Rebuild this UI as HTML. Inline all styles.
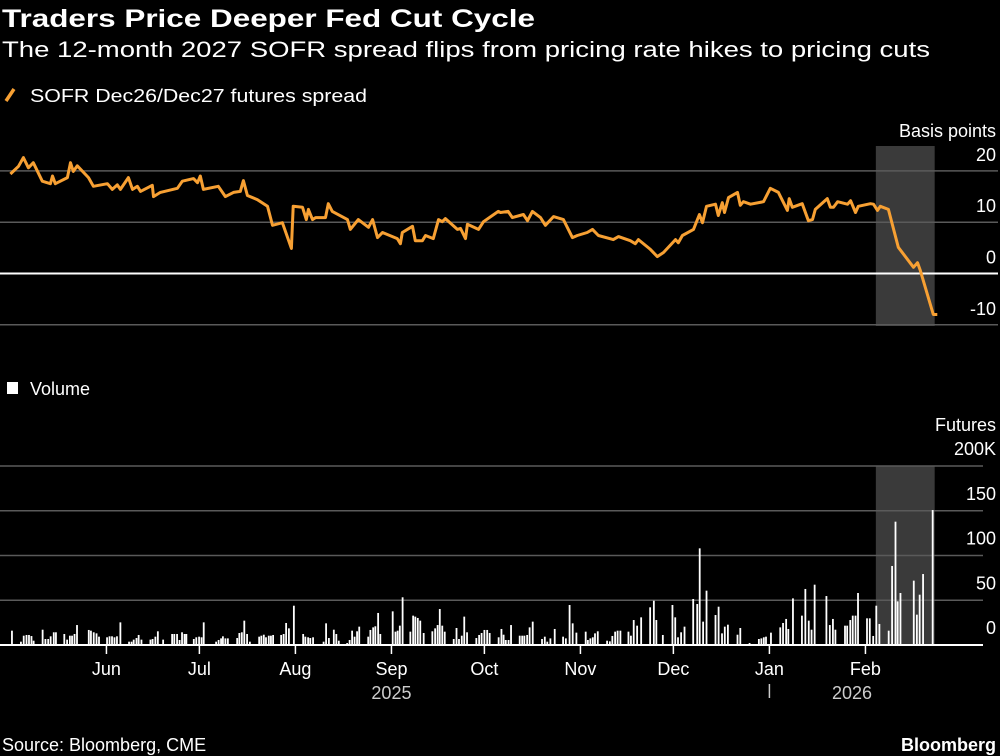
<!DOCTYPE html>
<html><head><meta charset="utf-8"><style>
html,body{margin:0;padding:0;background:#000;}
svg{display:block;font-family:"Liberation Sans",sans-serif;}
</style></head><body>
<svg id="chart" width="1000" height="756" viewBox="0 0 1000 756" xmlns="http://www.w3.org/2000/svg">
<rect x="0" y="0" width="1000" height="756" fill="#000"/>
<text x="2" y="27" font-size="25" font-weight="bold" fill="#fff" textLength="533" lengthAdjust="spacingAndGlyphs">Traders Price Deeper Fed Cut Cycle</text>
<text x="2" y="57" font-size="22" fill="#fff" textLength="928" lengthAdjust="spacingAndGlyphs">The 12-month 2027 SOFR spread flips from pricing rate hikes to pricing cuts</text>
<line x1="6" y1="101" x2="14" y2="89" stroke="#f7a033" stroke-width="3.5"/>
<text x="30" y="102" font-size="18" fill="#fff" textLength="337" lengthAdjust="spacingAndGlyphs">SOFR Dec26/Dec27 futures spread</text>
<rect x="7" y="382" width="11" height="12" fill="#fff"/>
<text x="30" y="395" font-size="18" fill="#fff">Volume</text>
<g id="topPanel"></g>
<g id="botPanel"></g>
<g id="xax"></g>
<text x="2" y="751" font-size="18" fill="#fff">Source: Bloomberg, CME</text>
<text x="996" y="751" font-size="18" font-weight="bold" fill="#fff" text-anchor="end">Bloomberg</text>
</svg>
<script>
// days since 2025-05-01
const spreadDays=[0,2.6,4.2,5.8,7.4,10.3,12.9,13.6,14.5,18.4,19.4,20.3,21.6,25.2,26.8,31.3,32.9,34.5,35.5,38.1,39.4,41,42,45.8,46.2,48.4,53.9,55.5,59.1,60.4,61.3,62.3,67.1,69.4,72,74.2,75.2,76.5,79.7,83,84.6,87.8,90.7,91.3,94.3,95.5,96.2,97.5,98.5,101.7,102.6,103.9,108.8,109.7,112.3,115.6,116.9,118.5,120.1,124.9,125.9,126.5,129.8,130.7,133,134,136.5,138.2,139.4,140.4,144.3,145.3,146.9,147.5,151.1,152.7,157.5,158.2,160.7,162,165.6,166.9,168.5,171.1,172.7,175.3,178.5,181.4,183,186.2,187.9,189.8,194.6,196.3,200.1,201.7,202.7,206.6,208.8,210.8,214.7,215.6,216.9,220.5,222.4,223.4,224.7,227.6,228.5,229.8,230.5,231.8,234.7,235.6,236.6,238.9,243.1,245.3,247.9,250.8,251.4,252.4,255.6,257.6,258.9,259.8,263.7,264.7,265.7,267,270.2,271.2,272.8,273.7,277.6,278.6,279.9,280.8,283.4,286.6,291.5,292.8,293.7,297.9,299.2];
const spreadValues=[19.4,20.9,22.6,20.6,21.6,18,17.5,19,17.5,18.7,21.6,19.9,21,18.7,17,17.5,16.4,17.3,16.4,18.7,16.4,17,16,17.2,15,15.8,16.6,18,18.5,17.7,19,16.4,17,15,15.8,16,18.1,15.2,14.4,13.1,9.4,9.9,4.9,13.1,12.9,10.5,12.5,10.5,10.9,10.9,13.6,12.1,10.5,8.6,10.5,9,10.5,7,8,6.8,5.8,8,9.2,6.4,6.4,7.4,6.8,10.5,10.1,10.7,8.6,8.8,6.8,9.6,8.6,10.1,12.1,11.9,12.1,10.9,11.5,10.3,12.1,10.9,9.4,11.1,10.5,7,7.4,8,8.6,7.4,6.6,7.2,6.4,5.8,6.6,4.7,3.3,4.1,6.6,6,7.4,8.6,11.5,9.9,13.1,13.5,11.3,13.8,11.9,14.8,15.8,13.3,14,13.5,14,16.6,15.8,12.3,14.6,12.9,13.6,10.3,10.5,12.5,14.6,12.9,12.9,14,13.5,14.2,11.9,13.1,13.6,13.5,12.3,13.1,12.5,5.1,1.2,2.1,0.6,-8,-8];
const volumeDays=[0.5,3.4,4.3,5.2,6.0,6.8,7.5,10.4,11.3,12.2,13.0,14.0,14.7,17.4,18.3,19.2,19.9,20.7,21.5,25.3,26.0,26.9,27.8,28.6,31.2,32.0,32.8,33.6,34.4,35.5,38.3,39.1,39.8,40.7,41.4,42.3,45.2,45.9,46.8,47.6,49.3,52.2,52.9,53.8,54.6,55.4,56.2,56.8,59.2,60.0,60.9,61.7,62.4,66.4,67.2,68.0,68.6,69.4,70.2,73.2,73.9,74.7,75.5,76.4,77.3,80.3,81.0,81.8,82.5,83.4,84.1,84.8,87.4,88.2,89.0,89.9,91.5,94.5,95.2,96.1,96.8,97.7,98.4,101.1,101.9,102.8,104.4,105.2,106.0,108.7,109.5,110.3,111.1,111.9,112.6,115.5,116.2,117.1,117.8,118.7,119.4,123.4,124.3,125.0,125.7,126.6,129.1,130.0,130.7,131.5,132.3,133.4,136.2,137.1,137.9,138.6,139.4,140.2,143.1,144.0,144.8,145.7,146.5,147.4,150.4,151.3,152.1,153.0,153.9,154.7,157.6,
158.5,159.2,159.9,160.8,161.6,164.4,165.2,165.9,166.8,167.6,168.6,171.6,172.5,173.3,174.3,175.7,178.4,179.3,180.5,181.5,182.7,185.7,186.4,187.2,188.0,188.7,189.6,192.6,193.5,194.3,195.2,196.0,196.9,199.5,200.3,201.2,202.3,203.6,206.5,207.7,208.5,210.6,213.7,214.6,215.5,216.5,217.6,220.4,221.7,222.5,223.6,224.7,227.6,228.6,229.7,230.6,231.6,234.7,235.6,236.5,238.6,241.6,242.4,243.2,243.9,245.5,248.5,249.4,250.4,251.1,252.6,255.5,256.6,257.7,258.6,259.6,263.4,264.5,265.5,266.3,269.4,270.1,271.1,271.9,272.8,273.6,276.5,277.4,278.5,279.5,280.5,283.5,284.6,285.7,286.4,287.3,291.6,292.6,293.5,294.6,297.7];
const volumeValues=[16,3.7,10.4,11.2,11.2,10,4.8,17.1,6.7,6.7,9.7,14.2,14.2,12.3,6,10.4,10.4,12.3,22.3,16.8,16,14.2,13,9.3,8.6,9.7,9.7,8.6,9.7,25.3,3.7,3.7,6,7.8,11.2,6,6,6.7,9.3,15.3,6,12.3,12.3,12.3,5.6,14.2,12.3,12.3,6.7,8.6,9.3,8.6,25.3,3.7,5.6,7.4,9.7,7.4,7.4,7.8,13.4,14.2,27.2,12.3,3.7,9.3,10.4,11.5,8.6,10.4,10.4,11.2,11.2,12.3,24.6,18.6,43.9,12.3,9.3,8.6,7.8,8.6,1.1,3.7,24.2,7.8,17.1,12.3,4.8,2.2,5.6,16,9.3,15.3,20.5,9.3,16.8,19.7,20.9,35.8,12.3,37.6,14.9,16,21.6,53.3,14.9,32.8,31.7,30.2,27.2,13.4,15.3,18.6,22.3,40.2,21.6,14.9,6.7,19,6.7,10.4,31.7,14.2,7.8,11.2,13.4,16.8,16.8,13.4,8.6,
17.9,11.5,5.6,5.6,22.3,10.4,10.4,10.4,11.2,19.7,26.1,6.7,9.3,3.7,7.4,17.9,9.3,7.4,44.7,24.2,13.8,14.9,5.6,7.4,8.6,13,15.3,4.8,4.1,10.1,14.9,16,16,14.9,10.4,27.9,21.6,30.9,42.1,49.5,27.9,11.2,44.7,30.9,8.6,14.2,20.5,51.4,45.8,108,26.1,60.7,33.5,42.8,13,20.5,22.7,11.5,19,1.1,2.2,6.7,7.4,8.6,9.3,13.8,19.7,24.6,29.1,17.9,52.1,32.8,62.6,27.2,17.1,67.4,54.7,22.3,29.1,17.1,21.6,21.6,27.9,32.8,32.8,58.1,29.8,29.8,10.1,43.9,23.5,16,88.3,137.8,48.8,58.1,71.9,33.9,56.2,79.3,150.8];
const spreadTicks=[20,10,0,-10];
const spreadTickLabels=["20","10","0","-10"];
const volumeTicks=[200,150,100,50,0];
const volumeTickLabels=["200K","150","100","50","0"];
const monthDays=[31,61,92,123,153,184,214,245,276];
const monthLabels=["Jun","Jul","Aug","Sep","Oct","Nov","Dec","Jan","Feb"];
const highlightStart=280, highlightEnd=297.7;

const NS="http://www.w3.org/2000/svg";
function mk(parent,tag,attrs,text){const e=document.createElementNS(NS,tag);for(const k in attrs)e.setAttribute(k,attrs[k]);if(text!==undefined)e.textContent=text;parent.appendChild(e);return e;}
const xS=d=>10.4+d*3.098;
const yS=v=>273.5-v*5.13;
const yV=v=>645-v*0.895;
const topG=document.getElementById('topPanel'), botG=document.getElementById('botPanel'), xax=document.getElementById('xax');

let h=mk(topG,'rect',{x:xS(highlightStart)-2,y:146,width:xS(highlightEnd)-xS(highlightStart)+4,height:180,fill:'#3a3a3a'});


h=mk(botG,'rect',{x:xS(highlightStart)-2,y:466,width:xS(highlightEnd)-xS(highlightStart)+4,height:179,fill:'#3a3a3a'});



let at=mk(topG,'text',{x:996,y:137,'font-size':18,fill:'#fff','text-anchor':'end'},'Basis points');


spreadTicks.forEach((t,i)=>{
  const y=yS(t);
  const g=mk(topG,'line',{x1:0,x2:998,y1:y,y2:y,stroke:t===0?'#fff':'#5a5a5a','stroke-width':t===0?2:1.5});
  
  
  const l=mk(topG,'text',{x:996,y:y-10,'font-size':18,fill:'#fff','text-anchor':'end'},spreadTickLabels[i]);
  
  
});
let d='';
spreadDays.forEach((dd,i)=>{d+=(i?'L':'M')+xS(dd).toFixed(1)+','+yS(spreadValues[i]).toFixed(1);});
const line=mk(topG,'path',{d:d,fill:'none',stroke:'#f7a033','stroke-width':3,'stroke-linejoin':'round'});



let vt=mk(botG,'text',{x:996,y:431,'font-size':18,fill:'#fff','text-anchor':'end'},'Futures');


volumeTicks.forEach((t,i)=>{
  const y=yV(t);
  if(t!==0){const g=mk(botG,'line',{x1:0,x2:983,y1:y,y2:y,stroke:'#5a5a5a','stroke-width':1.5});
  
  }
  const l=mk(botG,'text',{x:996,y:y-11,'font-size':18,fill:'#fff','text-anchor':'end'},volumeTickLabels[i]);
  
  
});
volumeDays.forEach((dd,i)=>{
  const v=volumeValues[i];
  const b=mk(botG,'rect',{x:xS(dd)-0.9,y:yV(v),width:1.8,height:645-yV(v),fill:'#fff'});
  
  
});
const base=mk(botG,'line',{x1:0,x2:983,y1:645,y2:645,stroke:'#fff','stroke-width':2});



monthDays.forEach((m,i)=>{
  const x=xS(m);
  const t=mk(xax,'line',{x1:x,x2:x,y1:645,y2:654,stroke:'#fff','stroke-width':1.5});
  
  
  const l=mk(xax,'text',{x:x,y:675,'font-size':18,fill:'#fff','text-anchor':'middle'},monthLabels[i]);
  
  
});
let y1=mk(xax,'text',{x:xS(123),y:699,'font-size':18,fill:'#ccc','text-anchor':'middle'},'2025');


let sep=mk(xax,'line',{x1:xS(245),x2:xS(245),y1:684,y2:698,stroke:'#ccc','stroke-width':1.5});


let y2=mk(xax,'text',{x:852,y:699,'font-size':18,fill:'#ccc','text-anchor':'middle'},'2026');


</script>
</body></html>
